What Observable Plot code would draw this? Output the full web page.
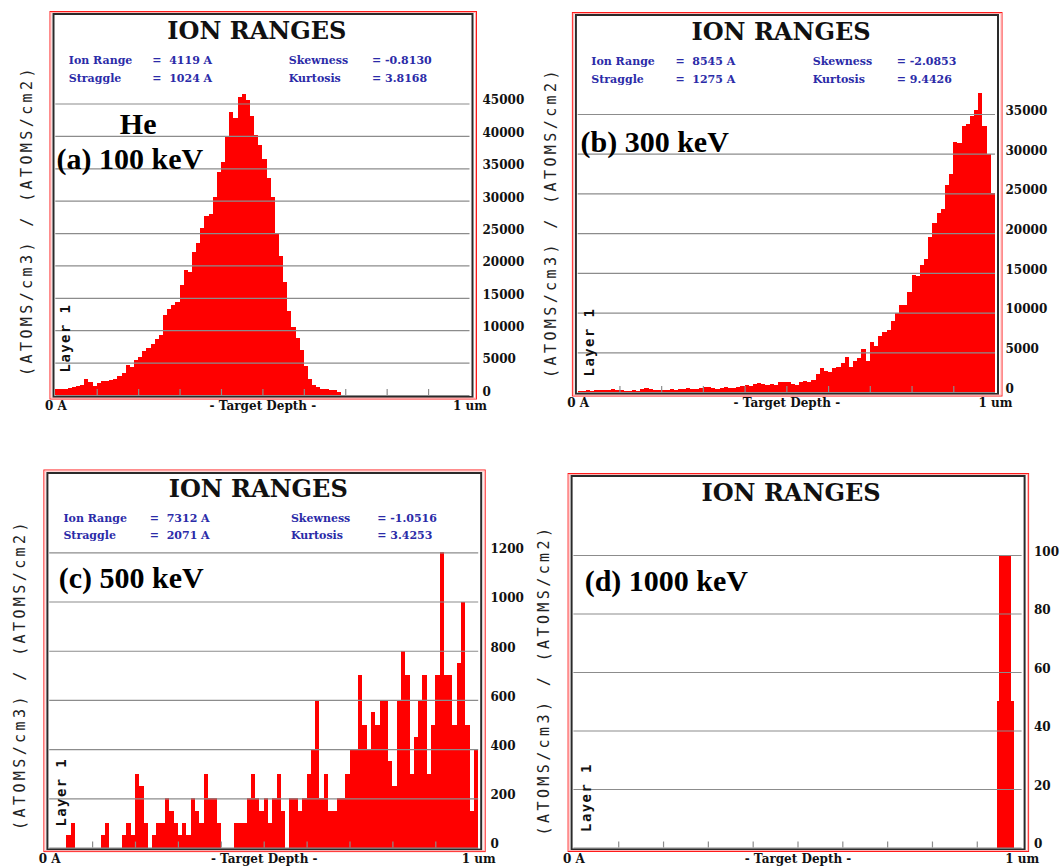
<!DOCTYPE html>
<html>
<head>
<meta charset="utf-8">
<script src="https://cdn.jsdelivr.net/npm/d3@7"></script>
<script src="https://cdn.jsdelivr.net/npm/@observablehq/plot@0.6"></script>
<style>
html,body{margin:0;padding:0;background:#fff;}
#page{position:relative;width:1062px;height:868px;overflow:hidden;background:#fff;}
#page svg{position:absolute;}
</style>
</head>
<body>
<div id="page"></div>
<script>
// ---------------- DATA ----------------
const binWidth = 100; // Å per histogram bin (SRIM 100 bins over 1 um)

// (a) 100 keV He
const aValues = [900,900,1000,1100,1300,1400,1600,2400,2000,1400,
  1900,2100,2200,2300,2500,3000,3400,4600,4300,5400,
  5900,6800,7200,7800,8700,9200,12400,13300,13900,14300,
  17000,19300,19000,22000,23500,25800,27600,28000,30600,34500,
  36000,40000,43700,42800,46000,46500,45600,43000,40200,38600,
  36500,33500,30500,25000,21500,17500,13000,10500,8800,7000,
  4500,2400,1500,1200,1000,900,750,700,450,0,
  0,0,0,0,0,0,0,0,0,0, 0,0,0,0,0,0,0,0,0,0, 0,0,0,0,0,0,0,0,0,0];

// (b) 300 keV
const bValues = [100,150,200,150,250,200,300,300,400,250,
  200,150,100,300,150,400,450,350,250,300,
  250,200,350,300,400,350,450,400,350,500,
  650,600,500,350,550,600,550,500,600,750,
  900,800,1000,1150,1000,900,950,850,1200,1300,
  1250,950,850,1300,1400,1300,1500,2300,3000,2600,
  2500,3000,3100,3700,4400,3200,3900,4300,5400,3900,
  6300,5800,7000,7600,7800,9000,10000,11000,11000,12600,
  14700,14600,16000,16800,19500,21300,22500,23000,26000,27500,
  31500,31300,33500,33800,34800,35500,37600,33500,30000,25000];

// (c) 500 keV
const cValues = [0,0,0,0,50,100,0,0,0,0,
  0,0,50,100,0,0,0,50,100,50,
  300,250,100,0,50,100,100,200,150,100,
  50,100,50,200,150,100,300,200,200,100,
  0,0,0,100,100,100,200,300,200,150,
  200,100,200,300,150,0,200,200,150,200,
  300,400,600,200,300,150,150,200,200,300,
  400,400,700,500,400,550,500,600,600,350,
  250,600,800,700,300,450,600,700,300,500,
  700,1200,700,700,500,750,1000,500,150,400];

// (d) 1000 keV (explicit bin edges, Å)
const dStart = [9450, 9500, 9770];
const dEnd = [9500, 9770, 9820];
const dValues = [50, 100, 50];

// Axis ticks and labels
const aTicks = [0,5000,10000,15000,20000,25000,30000,35000,40000,45000];
const bTicks = [0,5000,10000,15000,20000,25000,30000,35000];
const cTicks = [0,200,400,600,800,1000,1200];
const dTicks = [0,20,40,60,80,100];
const depthMinorTicks = [1000,2000,3000,4000,5000,6000,7000,8000,9000];
const depthLabelTicks = [0, 5000, 10000];
const depthLabels = ["0 A", "- Target Depth -", "1 um"];

// Texts
const chartTitle = "ION RANGES";
const statNames = ["Ion Range", "Straggle", "Skewness", "Kurtosis"];
const aStats = ["4119 A", "1024 A", "-0.8130", "3.8168"];
const bStats = ["8545 A", "1275 A", "-2.0853", "9.4426"];
const cStats = ["7312 A", "2071 A", "-1.0516", "3.4253"];
const panelLabels = ["(a) 100 keV", "(b) 300 keV", "(c) 500 keV", "(d) 1000 keV"];
const ionLabel = "He";
const yAxisLabel = "(ATOMS/cm3) / (ATOMS/cm2)";
const layerLabel = "Layer 1";

// ---------------- BUILD ----------------
const W = 531, H = 434;
const SERIF = "'DejaVu Serif', serif";
const TIMES = "'Liberation Serif', 'Times New Roman', serif";
const MONO = "'DejaVu Sans Mono', monospace";
const depthLabelMap = new Map(depthLabelTicks.map((d, i) => [d, depthLabels[i]]));

const uniformBins = vals => vals.map((v, i) => ({x1: i * binWidth, x2: (i + 1) * binWidth, v}));
const edgeBins = (s, e, v) => v.map((val, i) => ({x1: s[i], x2: e[i], v: val}));

function txt(str, x, y, p, o) {
  return Plot.text([str], {frameAnchor: "top-left", text: d => d, dx: x - p.px0, dy: y - p.pyTop,
    lineAnchor: "bottom", textAnchor: "start", ...o});
}

function makePanel(p) {
  const marks = [];
  marks.push(Plot.rect(p.bins, {x1: "x1", x2: "x2", y1: 0, y2: "v", fill: "#ff0000", shapeRendering: "crispEdges"}));
  marks.push(Plot.gridY(p.yTicks, {stroke: "#8c8c8c", strokeOpacity: 1, strokeWidth: 1.2}));
  marks.push(Plot.tickX(depthMinorTicks, {x: d => d, stroke: "#8c8c8c", strokeWidth: 1.2, insetTop: (p.py0 - p.pyTop) - 6}));
  marks.push(Plot.axisY(p.yTicks, {anchor: "right", tickSize: 0, tickPadding: p.labelStart - p.px1,
    tickFormat: d => String(d), label: null, fontFamily: SERIF, fontWeight: "bold", fontSize: 12, fill: "#111", dy: -3.5}));
  marks.push(Plot.axisX(depthLabelTicks, {anchor: "bottom", tickSize: 0, tickPadding: 6,
    tickFormat: d => depthLabelMap.get(d), label: null, fontFamily: SERIF, fontWeight: "bold", fontSize: 12, fill: "#111"}));
  // frames
  marks.push(Plot.frame({stroke: "#2a2a2a", strokeWidth: 2, insetLeft: -2.3, insetRight: -2.5, insetBottom: -1.5, insetTop: -(p.pyTop - p.blackTop)}));
  marks.push(Plot.frame({stroke: "#ff1a1a", strokeWidth: 1, insetLeft: -5.8, insetRight: -6.5, insetBottom: -3.5, insetTop: -(p.pyTop - p.redTop)}));
  marks.push(Plot.frame({stroke: "#ffb4b4", strokeWidth: 1, insetLeft: -4.8, insetRight: -5.5, insetBottom: -2.5, insetTop: -(p.pyTop - p.redTop - 1)}));
  // title
  marks.push(txt(chartTitle, p.titleX, p.titleY, p, {textAnchor: "middle", fontFamily: SERIF, fontWeight: "bold", fontSize: 24, fill: "#111"}));
  // stats
  if (p.stats) {
    const sx = p.statX, sy = p.statY;
    const so = {fontFamily: SERIF, fontWeight: "bold", fontSize: 11, fill: "#2b2ba8"};
    marks.push(txt(statNames[0], sx[0], sy[0], p, so));
    marks.push(txt(statNames[1], sx[0], sy[1], p, so));
    marks.push(txt("=\u00a0 " + p.stats[0], sx[1], sy[0], p, so));
    marks.push(txt("=\u00a0 " + p.stats[1], sx[1], sy[1], p, so));
    marks.push(txt(statNames[2], sx[2], sy[0], p, so));
    marks.push(txt(statNames[3], sx[2], sy[1], p, so));
    marks.push(txt("= " + p.stats[2], sx[3], sy[0], p, so));
    marks.push(txt("= " + p.stats[3], sx[3], sy[1], p, so));
  }
  // big labels
  const bo = {fontFamily: TIMES, fontWeight: "bold", fontSize: 30, fill: "#000"};
  if (p.ion) marks.push(txt(ionLabel, p.ionX, p.ionY, p, bo));
  marks.push(txt(p.label, p.labelX, p.labelY, p, bo));
  // rotated labels
  marks.push(txt(yAxisLabel, p.ylabX, p.ylabY, p, {rotate: -90, textAnchor: "middle", lineAnchor: "middle",
    fontFamily: MONO, fontSize: 15, fill: "#222"}));
  marks.push(txt(layerLabel, p.layerX, p.layerY, p, {rotate: -90, textAnchor: "middle", lineAnchor: "middle",
    fontFamily: MONO, fontWeight: "bold", fontSize: 14, fill: "#111"}));

  const svg = Plot.plot({
    width: W, height: H,
    marginLeft: p.px0 - p.qx, marginRight: p.qx + W - p.px1,
    marginTop: p.pyTop - p.qy, marginBottom: p.qy + H - p.py0,
    x: {domain: [0, 10000]},
    y: {domain: [0, p.yMax]},
    style: {background: "transparent", overflow: "visible"},
    marks
  });
  svg.style.left = p.qx + "px";
  svg.style.top = p.qy + "px";
  const texts = d3.select(svg).selectAll("text");
  texts.filter(function() { return this.textContent === yAxisLabel; })
    .attr("letter-spacing", "3.4").style("letter-spacing", "3.4px");
  texts.filter(function() { return this.textContent === layerLabel; })
    .attr("letter-spacing", "1.4").style("letter-spacing", "1.4px");
  document.getElementById("page").appendChild(svg);
}

makePanel({qx: 0, qy: 0, px0: 55.3, px1: 469.5, py0: 395, pyTop: 103.5, yMax: 45000, yTicks: aTicks,
  bins: uniformBins(aValues), blackTop: 13.5, redTop: 11, labelStart: 482,
  titleX: 256.3, titleY: 38.3, stats: aStats, statX: [68.3, 151.8, 288.2, 371.5], statY: [63, 81],
  ion: true, ionX: 119.3, ionY: 133.3, label: panelLabels[0], labelX: 56, labelY: 168.3,
  ylabX: 26.7, ylabY: 220, layerX: 65.5, layerY: 337.5});

makePanel({qx: 531, qy: 0, px0: 577.7, px1: 995, py0: 392, pyTop: 114, yMax: 35000, yTicks: bTicks,
  bins: uniformBins(bValues), blackTop: 14.5, redTop: 12, labelStart: 1005,
  titleX: 780.5, titleY: 39.5, stats: bStats, statX: [590.8, 674.9, 812.3, 896.2], statY: [64.5, 82.5],
  ion: false, label: panelLabels[1], labelX: 580, labelY: 151.5,
  ylabX: 550.3, ylabY: 222, layerX: 589, layerY: 341.5});

makePanel({qx: 0, qy: 434, px0: 49.2, px1: 478.2, py0: 847.6, pyTop: 552.3, yMax: 1200, yTicks: cTicks,
  bins: uniformBins(cValues), blackTop: 472.5, redTop: 469.5, labelStart: 490,
  titleX: 257.7, titleY: 496.7, stats: cStats, statX: [62.9, 149.3, 290.4, 376.7], statY: [521, 538.7],
  ion: false, label: panelLabels[2], labelX: 58.3, labelY: 587.7,
  ylabX: 20, ylabY: 674, layerX: 60.8, layerY: 791.7});

makePanel({qx: 531, qy: 434, px0: 573.4, px1: 1021.6, py0: 847.5, pyTop: 555, yMax: 100, yTicks: dTicks,
  bins: edgeBins(dStart, dEnd, dValues), blackTop: 475.5, redTop: 473, labelStart: 1033.5,
  titleX: 790.5, titleY: 500, stats: null,
  ion: false, label: panelLabels[3], labelX: 584.2, labelY: 590.5,
  ylabX: 543.6, ylabY: 679.5, layerX: 585.6, layerY: 797});
</script>
</body>
</html>
